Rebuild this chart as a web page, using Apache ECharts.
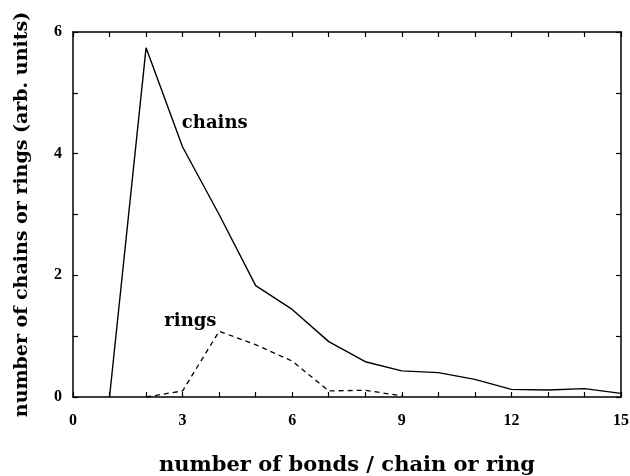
<!DOCTYPE html>
<html>
<head>
<meta charset="utf-8">
<script src="https://cdn.jsdelivr.net/npm/echarts@6/dist/echarts.min.js"></script>
<style>
html,body{margin:0;padding:0;background:#fff;}
#chart{width:630px;height:476px;}
</style>
</head>
<body>
<div id="chart"></div>
<script>
// Data
const chainsX = [1, 2, 3, 4, 5, 6, 7, 8, 9, 10, 11, 12, 13, 14, 15];
const chainsY = [0, 5.74, 4.11, 3.0, 1.83, 1.44, 0.91, 0.58, 0.43, 0.40, 0.29, 0.126, 0.115, 0.137, 0.06];
const ringsX = [2, 3, 4, 5, 6, 7, 8, 9];
const ringsY = [0, 0.10, 1.08, 0.86, 0.59, 0.10, 0.11, 0.02];
const xTickLabels = [0, 3, 6, 9, 12, 15];
const yTickLabels = [0, 2, 4, 6];
const annotations = [
  { text: 'chains', x: 2.98, y: 4.5 },
  { text: 'rings', x: 2.5, y: 1.25 }
];

const titleFont = 'DejaVu Serif';
const tickFont = 'Liberation Serif';
const ink = '#000';

const chart = echarts.init(document.getElementById('chart'), null, { renderer: 'canvas' });

const pairs = (xs, ys) => xs.map((x, i) => [x, ys[i]]);

const axisCommon = {
  axisLine: { show: true, onZero: false, lineStyle: { color: ink, width: 1.5 } },
  axisTick: { show: true, inside: true, length: 5, lineStyle: { color: ink, width: 1.2 } },
  splitLine: { show: false }
};

const option = {
  animation: false,
  backgroundColor: '#fff',
  grid: { left: 73, right: 9, top: 32, bottom: 79, containLabel: false, outerBoundsMode: 'none' },
  xAxis: [
    Object.assign({}, axisCommon, {
      type: 'value', min: 0, max: 15, interval: 1, position: 'bottom',
      name: 'number of bonds / chain or ring',
      nameLocation: 'middle', nameGap: 58,
      nameTextStyle: { fontFamily: titleFont, fontWeight: 'bold', fontSize: 21, color: ink },
      axisLabel: {
        show: true, margin: 16, color: ink,
        fontFamily: tickFont, fontWeight: 'bold', fontSize: 16,
        formatter: v => xTickLabels.includes(v) ? String(v) : ''
      }
    }),
    Object.assign({}, axisCommon, {
      type: 'value', min: 0, max: 15, interval: 1, position: 'top',
      axisLabel: { show: false }
    })
  ],
  yAxis: [
    Object.assign({}, axisCommon, {
      type: 'value', min: 0, max: 6, interval: 1, position: 'left',
      name: 'number of chains or rings (arb. units)',
      nameLocation: 'middle', nameGap: 41, nameRotate: 90,
      nameTextStyle: { fontFamily: titleFont, fontWeight: 'bold', fontSize: 19, color: ink },
      axisLabel: {
        show: true, margin: 11, color: ink,
        fontFamily: tickFont, fontWeight: 'bold', fontSize: 16,
        formatter: v => yTickLabels.includes(v) ? String(v) : ''
      }
    }),
    Object.assign({}, axisCommon, {
      type: 'value', min: 0, max: 6, interval: 1, position: 'right',
      axisLabel: { show: false }
    })
  ],
  series: [
    {
      name: 'chains', type: 'line', data: pairs(chainsX, chainsY),
      symbol: 'none', lineStyle: { color: ink, width: 1.4, type: 'solid' }, z: 3
    },
    {
      name: 'rings', type: 'line', data: pairs(ringsX, ringsY),
      symbol: 'none', lineStyle: { color: ink, width: 1.3, type: [5, 4] }, z: 3
    },
    {
      name: 'labels', type: 'scatter', symbolSize: 0, silent: true,
      itemStyle: { opacity: 1, color: ink },
      data: annotations.map(a => ({ value: [a.x, a.y], name: a.text })),
      label: {
        show: true, position: 'right', distance: 0,
        formatter: p => p.name,
        fontFamily: titleFont, fontWeight: 'bold', fontSize: 18, color: ink, opacity: 1
      },
      z: 4
    }
  ]
};

chart.setOption(option);
</script>
</body>
</html>
